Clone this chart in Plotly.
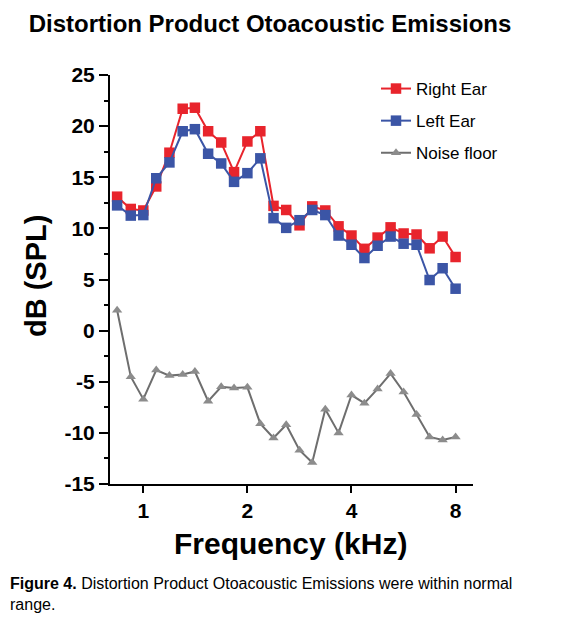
import plotly.graph_objects as go

freq_khz = [0.84, 0.92, 1.0, 1.09, 1.19, 1.30, 1.41, 1.54, 1.68, 1.83, 2.0, 2.18, 2.38, 2.59,
            2.83, 3.08, 3.36, 3.67, 4.0, 4.36, 4.76, 5.19, 5.66, 6.17, 6.73, 7.34, 8.0]
right_ear = [13.1, 11.9, 11.75, 14.1, 17.4, 21.7, 21.8, 19.5, 18.4, 15.5, 18.5, 19.5, 12.2, 11.8,
             10.3, 12.15, 11.75, 10.2, 9.3, 8.0, 9.1, 10.1, 9.5, 9.4, 8.05, 9.2, 7.2]
left_ear = [12.25, 11.25, 11.3, 14.9, 16.45, 19.5, 19.7, 17.3, 16.35, 14.55, 15.4, 16.85, 11.0, 10.05,
            10.8, 11.8, 11.3, 9.3, 8.4, 7.1, 8.3, 9.2, 8.5, 8.4, 4.95, 6.1, 4.1]
noise_floor = [2.0, -4.5, -6.7, -3.85, -4.4, -4.3, -4.0, -6.9, -5.5, -5.6, -5.55, -9.1, -10.5, -9.2,
               -11.7, -12.9, -7.7, -10.0, -6.3, -7.1, -5.7, -4.2, -6.0, -8.2, -10.4, -10.7, -10.4]
x_tick_vals = [1, 2, 4, 8]
x_tick_text = ["1", "2", "4", "8"]
y_tick_vals = [-15, -10, -5, 0, 5, 10, 15, 20, 25]
y_tick_text = ["-15", "-10", "-5", "0", "5", "10", "15", "20", "25"]

FONT = "Liberation Sans, Arial, Helvetica, sans-serif"
RED = "#e8242c"
BLUE = "#3b55a6"
GRAY = "#8c8c8c"

# page body has an 8px margin; work in reference-screen pixels and shift
OFF = 8
W, H = 575 - OFF, 618 - OFF
L, R, T, B = 110 - OFF, 473 - OFF, 75 - OFF, 484 - OFF

def px_x(px):
    return (px - OFF - L) / (R - L)

def px_y(py):
    return (B - (py - OFF)) / (B - T)

fig = go.Figure()
fig.add_trace(go.Scatter(x=freq_khz, y=right_ear, name="Right Ear", mode="lines+markers",
                         line=dict(color=RED, width=2),
                         marker=dict(symbol="square", size=10.5, color=RED), legendgroup="r"))
fig.add_trace(go.Scatter(x=freq_khz, y=left_ear, name="Left Ear", mode="lines+markers",
                         line=dict(color=BLUE, width=2),
                         marker=dict(symbol="square", size=10.5, color=BLUE), legendgroup="l"))
fig.add_trace(go.Scatter(x=freq_khz, y=noise_floor, name="Noise floor", mode="lines+markers",
                         line=dict(color="#6e6e6e", width=2),
                         marker=dict(symbol="triangle-up", size=9, color=GRAY), legendgroup="n"))

fig.update_layout(
    width=W, height=H,
    margin=dict(l=L, r=W - R, t=T, b=H - B),
    plot_bgcolor="white", paper_bgcolor="white",
    font=dict(family=FONT, color="black"),
    showlegend=True,
    legend=dict(x=px_x(376), y=px_y(71), xanchor="left", yanchor="top",
                font=dict(size=17, family=FONT, color="black"),
                bgcolor="rgba(0,0,0,0)", tracegroupgap=7, itemwidth=30),
    title=dict(text="<b>Distortion Product Otoacoustic Emissions</b>",
               x=(270 - OFF) / W, xanchor="center", xref="container",
               y=1 - (24 - OFF) / H, yanchor="middle", yref="container",
               font=dict(size=24, family=FONT, color="black")),
)
fig.update_xaxes(type="log", range=[-0.0963, 0.9535], tickvals=x_tick_vals, ticktext=x_tick_text,
                 showline=True, linecolor="black", linewidth=2, ticks="outside", ticklen=7,
                 tickwidth=2, tickcolor="black", showgrid=False, zeroline=False,
                 tickfont=dict(size=21, family=FONT, color="black", weight="bold"))
fig.update_yaxes(range=[-15, 25], tickvals=y_tick_vals, ticktext=y_tick_text,
                 showline=True, linecolor="black", linewidth=2, ticks="outside", ticklen=9,
                 tickwidth=2, tickcolor="black", showgrid=False, zeroline=False,
                 minor=dict(dtick=2.5, ticks="outside", ticklen=4, tickwidth=2, tickcolor="black", showgrid=False),
                 tickfont=dict(size=21, family=FONT, color="black", weight="bold"))

fig.add_annotation(text="<b>dB (SPL)</b>", xref="paper", yref="paper", x=px_x(36), y=px_y(276),
                   textangle=-90, showarrow=False, xanchor="center", yanchor="middle",
                   font=dict(size=29, family=FONT, color="black"))
fig.add_annotation(text="<b>Frequency (kHz)</b>", xref="paper", yref="paper", x=px_x(290), y=px_y(543),
                   showarrow=False, xanchor="center", yanchor="middle",
                   font=dict(size=30, family=FONT, color="black"))
fig.add_annotation(text="<b>Figure 4.</b> Distortion Product Otoacoustic Emissions were within normal<br>range.",
                   xref="paper", yref="paper", x=px_x(8), y=px_y(573), align="left",
                   showarrow=False, xanchor="left", yanchor="top",
                   font=dict(size=16, family=FONT, color="black"))

fig.write_html("out.html")
